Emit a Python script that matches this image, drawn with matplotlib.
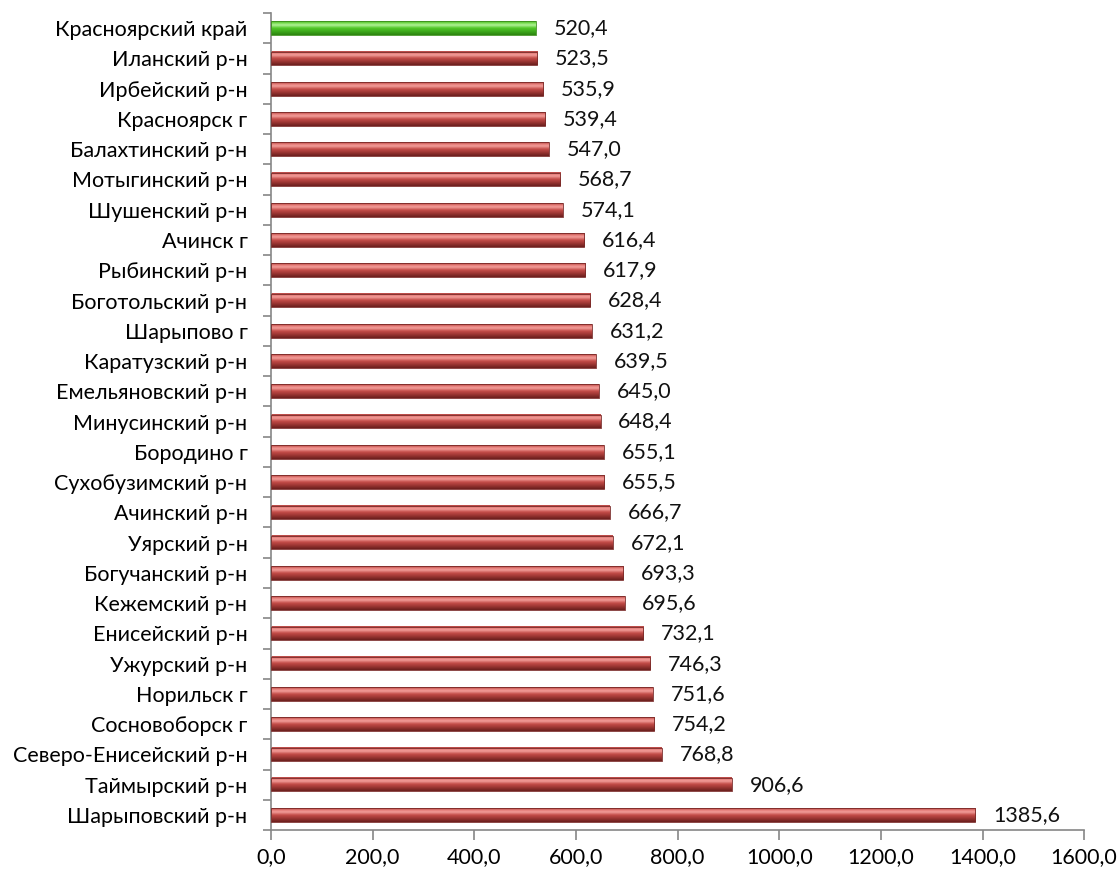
import numpy as np
import matplotlib
matplotlib.use("Agg")
import matplotlib.pyplot as plt
from matplotlib.colors import LinearSegmentedColormap

plt.rcParams['font.family'] = ['Lato', 'DejaVu Sans']

regions = [
    "Красноярский край", "Иланский р-н", "Ирбейский р-н", "Красноярск г",
    "Балахтинский р-н", "Мотыгинский р-н", "Шушенский р-н", "Ачинск г",
    "Рыбинский р-н", "Боготольский р-н", "Шарыпово г", "Каратузский р-н",
    "Емельяновский р-н", "Минусинский р-н", "Бородино г", "Сухобузимский р-н",
    "Ачинский р-н", "Уярский р-н", "Богучанский р-н", "Кежемский р-н",
    "Енисейский р-н", "Ужурский р-н", "Норильск г", "Сосновоборск г",
    "Северо-Енисейский р-н", "Таймырский р-н", "Шарыповский р-н",
]
values = [
    520.4, 523.5, 535.9, 539.4, 547.0, 568.7, 574.1, 616.4, 617.9, 628.4,
    631.2, 639.5, 645.0, 648.4, 655.1, 655.5, 666.7, 672.1, 693.3, 695.6,
    732.1, 746.3, 751.6, 754.2, 768.8, 906.6, 1385.6,
]
x_ticks = [0, 200, 400, 600, 800, 1000, 1200, 1400, 1600]

# tube-like shading, dark underside and a pale highlight near the top
red_cmap = LinearSegmentedColormap.from_list(
    "red_tube", [(0.0, "#6a1f1d"), (0.25, "#9a3532"), (0.5, "#c44c48"),
                 (0.72, "#f29e9a"), (0.85, "#e7807c"), (1.0, "#b1403d")])
green_cmap = LinearSegmentedColormap.from_list(
    "green_tube", [(0.0, "#2c8410"), (0.25, "#3da81c"), (0.5, "#52c829"),
                   (0.72, "#b2f298"), (0.85, "#7ee157"), (1.0, "#45b021")])

fig = plt.figure(figsize=(11.2, 8.71), dpi=100)
ax = fig.add_axes([0.242, 0.047, 0.726, 0.938])

n = len(regions)
ypos = np.arange(n)[::-1]  # first region at the top
bar_h = 0.45
grad = np.linspace(0, 1, 64).reshape(-1, 1)

for y, v, i in zip(ypos, values, range(n)):
    cmap = green_cmap if i == 0 else red_cmap
    edge = "#3d8f1c" if i == 0 else "#7a2a28"
    ax.barh(y, v, height=bar_h, color="none", edgecolor=edge, linewidth=0.6, zorder=3)
    ax.imshow(grad, cmap=cmap, aspect="auto", origin="lower",
              extent=(0, v, y - bar_h / 2, y + bar_h / 2), zorder=2,
              interpolation="bilinear")
    ax.text(v + 35, y, f"{v:.1f}".replace(".", ","), va="center", ha="left",
            fontsize=15.5, color="#111111")

ax.set_xlim(0, 1600)
ax.set_ylim(-0.5, n - 0.5)
ax.set_xticks(x_ticks)
ax.set_xticklabels([f"{t:.1f}".replace(".", ",") for t in x_ticks], fontsize=15.5)

ax.set_yticks(ypos)
ax.set_yticklabels(regions, fontsize=15.5)
ax.tick_params(axis="y", length=0, pad=17)
ax.set_yticks(np.arange(-0.5, n, 1.0), minor=True)
ax.tick_params(axis="y", which="minor", length=6, color="#868686", width=1.2)
ax.tick_params(axis="x", length=7, color="#868686", width=1.2, pad=5)

for side in ("top", "right"):
    ax.spines[side].set_visible(False)
for side in ("left", "bottom"):
    ax.spines[side].set_color("#868686")
    ax.spines[side].set_linewidth(1.2)

fig.savefig("out.png", dpi=100)
